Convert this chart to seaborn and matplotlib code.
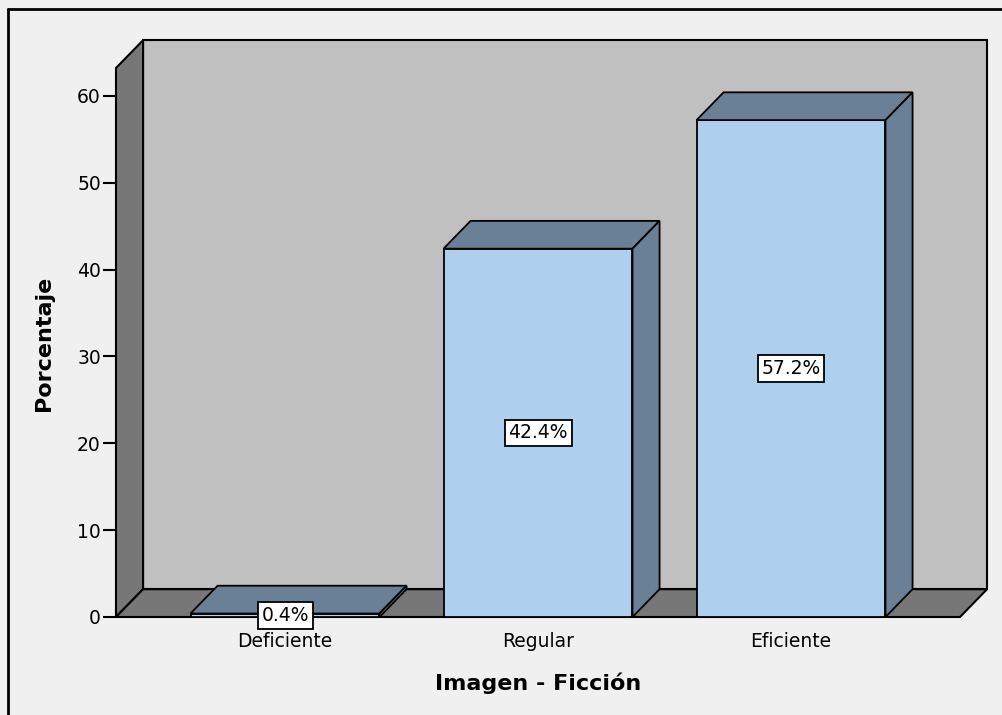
import matplotlib
matplotlib.use("Agg")
import matplotlib.pyplot as plt
import seaborn as sns
from matplotlib.patches import Polygon, Rectangle
from matplotlib.lines import Line2D

# datos
categorias = ["Deficiente", "Regular", "Eficiente"]
porcentajes = [0.4, 42.4, 57.2]
etiquetas = ["0.4%", "42.4%", "57.2%"]
yticks = [0, 10, 20, 30, 40, 50, 60]

# colores estilo SPSS
fondo = "#f0f0f0"
pared = "#c0c0c0"
lateral = "#777777"
frente = "#aecfed"
sombra = "#6a8096"

sns.set_style("white")
plt.rcParams['font.family'] = ['DejaVu Sans']
plt.rcParams['text.color'] = 'black'
plt.rcParams['xtick.color'] = 'black'
plt.rcParams['ytick.color'] = 'black'
plt.rcParams['axes.labelcolor'] = 'black'

W, H = 1003, 715
fig = plt.figure(figsize=(W / 100, H / 100), dpi=100, facecolor=fondo)
# plano frontal del grafico en pixeles
x0, x1, y0, y1 = 116, 960, 617, 68
ax = fig.add_axes([x0 / W, 1 - y0 / H, (x1 - x0) / W, (y0 - y1) / H])
ax.patch.set_alpha(0)

xmin, xmax, ymax = -0.668, 2.668, 63.2
dx, dy = 0.107, 3.2  # profundidad 3D

# pared del fondo, pared lateral y suelo
ax.add_patch(Rectangle((xmin + dx, dy), xmax - xmin, ymax, facecolor=pared,
                       edgecolor="black", lw=1.5, zorder=0.5, clip_on=False))
ax.add_patch(Polygon([(xmin, 0), (xmin + dx, dy), (xmin + dx, ymax + dy), (xmin, ymax)],
                     facecolor=lateral, edgecolor="black", lw=1.5, zorder=0.6, clip_on=False))
ax.add_patch(Polygon([(xmin, 0), (xmax, 0), (xmax + dx, dy), (xmin + dx, dy)],
                     facecolor=lateral, edgecolor="black", lw=1.5, zorder=0.6, clip_on=False))

sns.barplot(x=categorias, y=porcentajes, order=categorias, color=frente, saturation=1,
            width=0.747, edgecolor="black", linewidth=1.3, ax=ax, zorder=2)

for p in list(ax.patches):
    if not isinstance(p, Rectangle) or p.get_zorder() != 2:
        continue
    bx, bw, bh = p.get_x(), p.get_width(), p.get_height()
    ax.add_patch(Polygon([(bx, bh), (bx + bw, bh), (bx + bw + dx, bh + dy), (bx + dx, bh + dy)],
                         facecolor=sombra, edgecolor="black", lw=1.3, zorder=2, clip_on=False))
    ax.add_patch(Polygon([(bx + bw, 0), (bx + bw + dx, dy), (bx + bw + dx, bh + dy), (bx + bw, bh)],
                         facecolor=sombra, edgecolor="black", lw=1.3, zorder=2, clip_on=False))

for i, (v, t) in enumerate(zip(porcentajes, etiquetas)):
    ax.text(i, v / 2, t, ha="center", va="center", fontsize=13.5, zorder=5, color="black",
            bbox=dict(boxstyle="square,pad=0.2", facecolor="white", edgecolor="black", lw=1.3))

ax.set_xlim(xmin, xmax)
ax.set_ylim(0, ymax)
ax.set_yticks(yticks)
ax.set_yticklabels([str(t) for t in yticks])
for s in ax.spines.values():
    s.set_visible(False)
ax.tick_params(axis="y", left=True, length=9.4, width=1.5, pad=1.5, labelsize=13.5,
               colors="black")
ax.tick_params(axis="x", bottom=False, length=0, pad=11, labelsize=13.5, colors="black")
ax.set_xlabel("")
ax.set_ylabel("")

fig.text(538 / W, 1 - 683 / H, "Imagen - Ficción", ha="center", va="center",
         fontsize=16, fontweight="bold", color="black")
fig.text(44 / W, 1 - 343 / H, "Porcentaje", ha="center", va="center", rotation=90,
         fontsize=16, fontweight="bold", color="black")

# marco exterior (solo arriba e izquierda)
fig.add_artist(Line2D([8 / W, 1], [1 - 9 / H, 1 - 9 / H], color="black", lw=2))
fig.add_artist(Line2D([8 / W, 8 / W], [0, 1 - 9 / H], color="black", lw=2))

fig.savefig("out.png", dpi=100, facecolor=fondo)
